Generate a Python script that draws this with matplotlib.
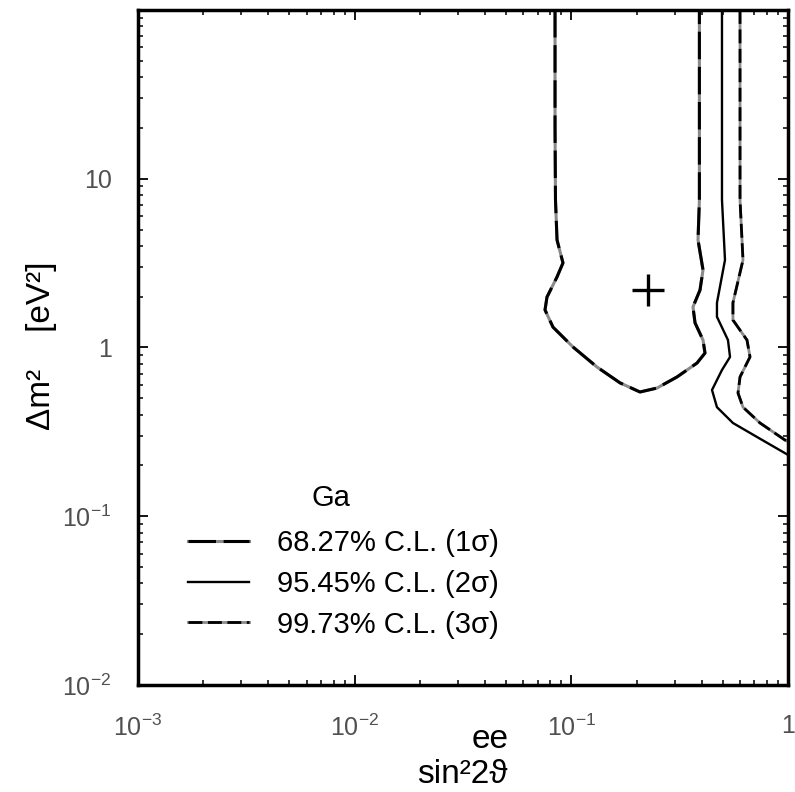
import matplotlib
matplotlib.use('Agg')
import matplotlib.pyplot as plt
from matplotlib.ticker import FixedLocator, FixedFormatter, LogLocator, NullFormatter
from matplotlib.legend_handler import HandlerTuple

plt.rcParams['font.family'] = ['Liberation Sans', 'DejaVu Sans']
plt.rcParams['mathtext.fontset'] = 'custom'
plt.rcParams['mathtext.rm'] = 'Liberation Sans'
plt.rcParams['mathtext.it'] = 'Liberation Sans:italic'
plt.rcParams['mathtext.bf'] = 'Liberation Sans:bold'

# ---- data ----
sigma1_x = [0.0841, 0.0841, 0.0845, 0.0859, 0.0915, 0.0859, 0.0772, 0.0756, 0.0823, 0.1018,
            0.1314, 0.1678, 0.2074, 0.2485, 0.3074, 0.3802, 0.4139, 0.4053, 0.3723, 0.3643,
            0.3925, 0.4053, 0.3843, 0.3900, 0.3900]
sigma1_y = [100, 20, 7.48, 4.34, 3.17, 2.62, 1.99, 1.67, 1.32, 1.007,
            0.766, 0.617, 0.545, 0.575, 0.669, 0.809, 0.927, 1.107, 1.40, 1.74,
            2.19, 2.88, 4.34, 7.48, 100]

sigma2_x = [0.4958, 0.4958, 0.5119, 0.470, 0.470, 0.5284, 0.540, 0.4958, 0.4459, 0.470,
            0.557, 0.719, 1.0]
sigma2_y = [100, 7.48, 3.30, 1.84, 1.52, 1.107, 0.879, 0.736, 0.560, 0.443,
            0.357, 0.295, 0.231]

sigma3_x = [0.6006, 0.6006, 0.6198, 0.557, 0.557, 0.6468, 0.6677, 0.6006, 0.5879, 0.6198,
            0.7428, 0.968, 1.0]
sigma3_y = [100, 7.48, 3.30, 1.84, 1.455, 1.107, 0.879, 0.669, 0.537, 0.443,
            0.357, 0.283, 0.277]

best_fit_x = [0.226]
best_fit_y = [2.19]

x_ticks = [1e-3, 1e-2, 1e-1, 1]
x_tick_labels = [r'$10^{-3}$', r'$10^{-2}$', r'$10^{-1}$', '1']
y_ticks = [1e-2, 1e-1, 1, 10, 100]
y_tick_labels = [r'$10^{-2}$', r'$10^{-1}$', '1', '10', '']

legend_title = 'Ga'
legend_labels = ['68.27% C.L. (1σ)', '95.45% C.L. (2σ)', '99.73% C.L. (3σ)']

# ---- figure ----
W, H = 795, 792
fig = plt.figure(figsize=(W / 100, H / 100), dpi=100)
ax = fig.add_axes([138 / W, (H - 685) / H, 650 / W, 675 / H])
ax.set_xscale('log')
ax.set_yscale('log')
ax.set_xlim(1e-3, 1)
ax.set_ylim(1e-2, 1e2)

# contours
g1, = ax.plot(sigma1_x, sigma1_y, color='#8a8a8a', lw=2.2, solid_joinstyle='round')
b1, = ax.plot(sigma1_x, sigma1_y, color='black', lw=2.2, linestyle=(0, (9, 2.5)))
b2, = ax.plot(sigma2_x, sigma2_y, color='black', lw=1.7)
g3, = ax.plot(sigma3_x, sigma3_y, color='#8a8a8a', lw=2.0)
b3, = ax.plot(sigma3_x, sigma3_y, color='black', lw=2.0, linestyle=(0, (5, 2)))

ax.plot(best_fit_x, best_fit_y, marker='+', markersize=23, mew=2.4, color='black',
        linestyle='none')

# ticks
ax.xaxis.set_major_locator(FixedLocator(x_ticks))
ax.xaxis.set_major_formatter(FixedFormatter(x_tick_labels))
ax.yaxis.set_major_locator(FixedLocator(y_ticks))
ax.yaxis.set_major_formatter(FixedFormatter(y_tick_labels))
ax.xaxis.set_minor_locator(LogLocator(base=10, subs=range(2, 10), numticks=20))
ax.yaxis.set_minor_locator(LogLocator(base=10, subs=range(2, 10), numticks=20))
ax.xaxis.set_minor_formatter(NullFormatter())
ax.yaxis.set_minor_formatter(NullFormatter())
ax.tick_params(which='both', direction='in', top=True, right=True, colors='black',
               labelcolor='#505050')
ax.tick_params(which='major', length=7, width=1.3, labelsize=18)
ax.tick_params(which='minor', length=3.8, width=1.1)
ax.tick_params(axis='y', which='major', pad=19)
ax.tick_params(axis='x', which='major', pad=21)

for s in ax.spines.values():
    s.set_linewidth(2.5)

# axis labels
fig.text(42 / W, 1 - 346 / H, 'Δm²    [eV²]', rotation=90, ha='center', va='center',
         fontsize=24)
fig.text(490 / W, 1 - 740 / H, 'ee', ha='center', va='center', fontsize=24)
fig.text(417 / W, 1 - 783 / H, 'sin²2ϑ', ha='left', va='baseline', fontsize=24)

# legend
fig.text(331 / W, 1 - 498 / H, legend_title, ha='center', va='center', fontsize=21)
leg = ax.legend([(g1, b1), b2, (g3, b3)], legend_labels,
                handler_map={tuple: HandlerTuple(ndivide=1)},
                fontsize=21,
                loc='upper left', bbox_to_anchor=((188 - 138) / 650, (685 - 529) / 675),
                frameon=False, borderpad=0, borderaxespad=0,
                handlelength=2.1, handletextpad=0.95, labelspacing=0.44)

fig.savefig('out.png', dpi=100)
